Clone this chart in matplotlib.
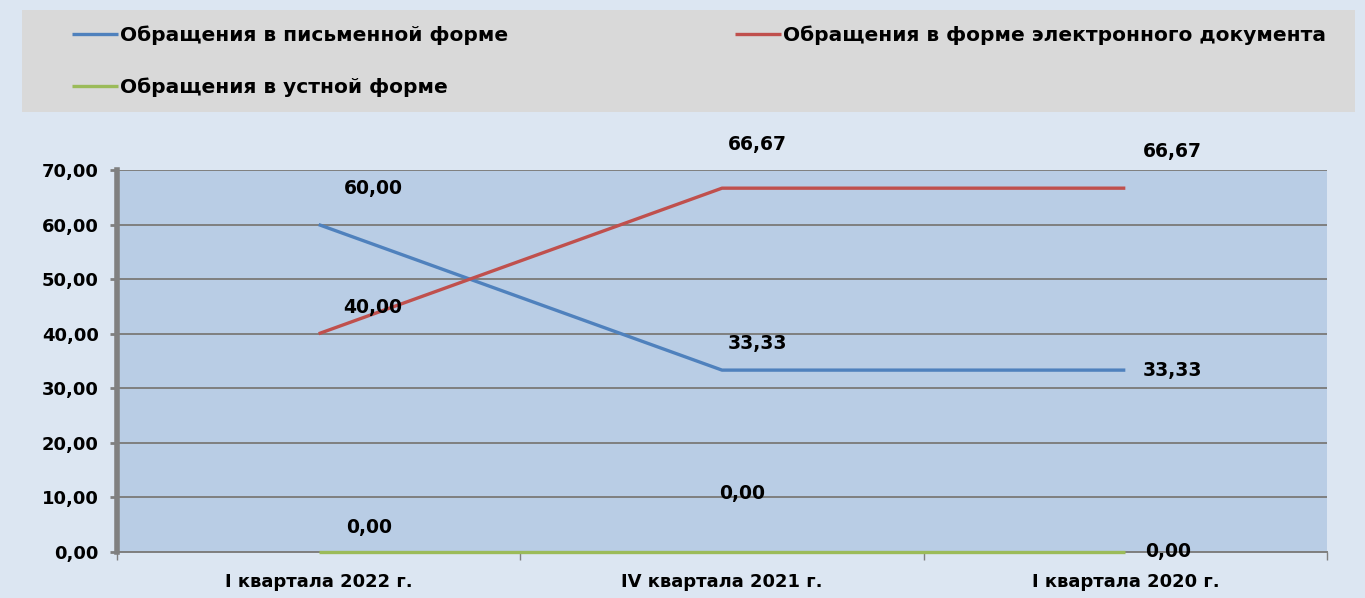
import numpy as np
import matplotlib
matplotlib.use('Agg')
import matplotlib.pyplot as plt
from matplotlib.patches import Rectangle

# данные с графика
quarters = ['I квартала 2022 г.', 'IV квартала 2021 г.', 'I квартала 2020 г.']
written = [60.00, 33.33, 33.33]
electronic = [40.00, 66.67, 66.67]
oral = [0.00, 0.00, 0.00]
names = ['Обращения в письменной форме',
         'Обращения в форме электронного документа',
         'Обращения в устной форме']

colors = ['#4f81bd', '#c0504d', '#9bbb59']
# смещения подписей данных (в пикселях) для каждой точки
offsets = [
    [(55, 36), (35, 27), (47, 0)],
    [(54, 26), (35, 44), (47, 37)],
    [(50, 24), (20, 59), (43, 0)],
]

plt.rcParams['font.family'] = ['DejaVu Sans']
plt.rcParams['font.weight'] = 'bold'

W, H = 1365, 598
fig = plt.figure(figsize=(W / 100, H / 100), dpi=100)
fig.patch.set_facecolor('#dce6f2')

# серая подложка легенды
fig.add_artist(Rectangle((22 / W, 1 - 112 / H), 1333 / W, 102 / H,
                         transform=fig.transFigure, facecolor='#d9d9d9',
                         edgecolor='none', zorder=0))

ax = fig.add_axes([117 / W, 1 - 552 / H, 1210 / W, 382 / H])
ax.set_facecolor('#b9cde5')

x = np.arange(len(quarters))
lines = []
for vals, c, n, offs in zip([written, electronic, oral], colors, names, offsets):
    ln, = ax.plot(x, vals, color=c, lw=2.4, label=n, solid_capstyle='butt',
                  zorder=4, clip_on=False)
    lines.append(ln)
    for xi, v, o in zip(x, vals, offs):
        ax.annotate(f'{v:.2f}'.replace('.', ','), (xi, v), xytext=o,
                    textcoords='offset pixels', ha='center', va='center',
                    fontsize=13.5, fontweight='bold', color='black', zorder=5)

ax.set_xlim(-0.5, len(quarters) - 0.5)
ax.set_ylim(0, 70)
ax.set_yticks(np.arange(0, 71, 10))
ax.set_yticklabels([f'{v:.2f}'.replace('.', ',') for v in np.arange(0, 71, 10)],
                   fontsize=13, fontweight='bold')
ax.set_xticks(x)
ax.set_xticklabels(quarters, fontsize=13, fontweight='bold')
ax.set_xticks(np.arange(-0.5, len(quarters), 1), minor=True)
ax.tick_params(axis='x', which='major', length=0, pad=15)
ax.tick_params(axis='x', which='minor', length=6, color='#7f7f7f', width=1)
ax.tick_params(axis='y', length=5, color='#7f7f7f', width=2, pad=8)
ax.grid(axis='y', color='#7f7f7f', lw=1.4, zorder=1)
ax.set_axisbelow(True)
for s in ['top', 'right']:
    ax.spines[s].set_visible(False)
ax.spines['left'].set_color('#808080')
ax.spines['left'].set_linewidth(4)
ax.spines['bottom'].set_color('#7f7f7f')
ax.spines['bottom'].set_linewidth(1.4)

# легенда: три отдельных элемента
legend_pos = [(72, 35), (735, 35), (72, 87)]
for ln, (lx, ly) in zip(lines, legend_pos):
    leg = fig.legend(handles=[ln], loc='center left',
                     bbox_to_anchor=(lx / W, 1 - ly / H), frameon=False,
                     borderpad=0, borderaxespad=0, handlelength=2.3,
                     handletextpad=0.1, prop={'size': 14.5, 'weight': 'bold'})

fig.savefig('out.png', dpi=100, facecolor=fig.get_facecolor())
